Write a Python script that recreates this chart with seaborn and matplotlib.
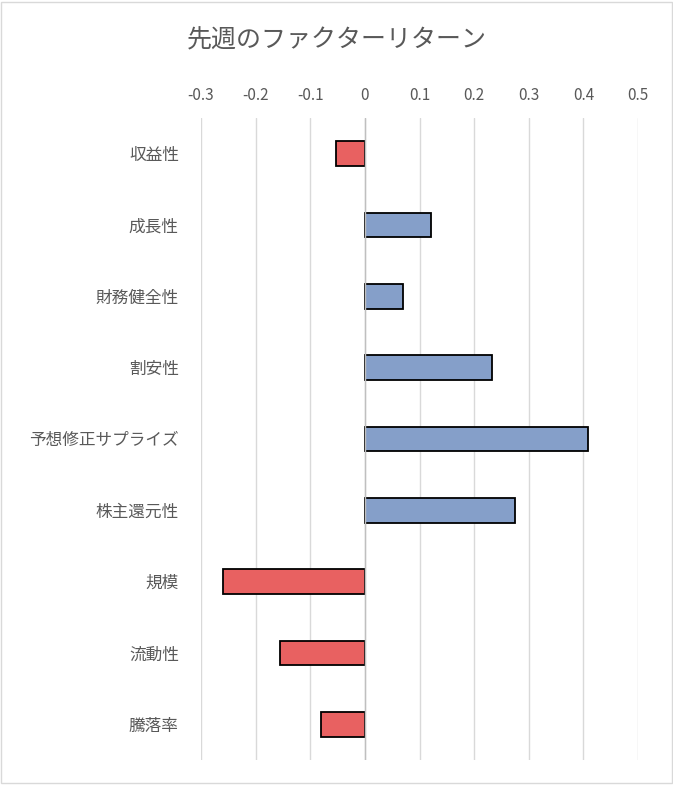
import matplotlib
matplotlib.use("Agg")
import matplotlib.pyplot as plt
import seaborn as sns
import pandas as pd

factors = ["収益性", "成長性", "財務健全性", "割安性", "予想修正サプライズ",
           "株主還元性", "規模", "流動性", "騰落率"]
returns = [-0.053, 0.121, 0.070, 0.233, 0.409, 0.275, -0.260, -0.156, -0.081]
ticks = [-0.3, -0.2, -0.1, 0, 0.1, 0.2, 0.3, 0.4, 0.5]
tick_labels = ["-0.3", "-0.2", "-0.1", "0", "0.1", "0.2", "0.3", "0.4", "0.5"]

sns.set_style("white")
plt.rcParams['font.family'] = ['Noto Sans CJK JP', 'DejaVu Sans']

df = pd.DataFrame({"factor": factors, "ret": returns})
colors = ["#FF4A4A" if v < 0 else "#7A9CD4" for v in returns]

fig = plt.figure(figsize=(6.73, 7.85), dpi=100)
ax = fig.add_axes([201 / 673, 25 / 785, 437 / 673, 642 / 785])
sns.barplot(data=df, x="ret", y="factor", hue="factor", palette=colors, legend=False,
            width=0.35, edgecolor="black", linewidth=1.3, ax=ax, zorder=3)

ax.set_xlim(-0.3, 0.5)
ax.set_xticks(ticks)
ax.set_xticklabels(tick_labels)
ax.xaxis.tick_top()
ax.tick_params(axis="x", length=0, labelsize=11, labelcolor="#595959", pad=10)
ax.tick_params(axis="y", length=0, labelsize=12, labelcolor="#595959", pad=16)
ax.grid(axis="x", color="#D9D9D9", linewidth=1, zorder=0)
ax.axvline(0, color="#BFBFBF", linewidth=1, zorder=4)
for s in ax.spines.values():
    s.set_visible(False)
ax.set_xlabel("")
ax.set_ylabel("")

fig.text(0.5, 1 - 40 / 785, "先週のファクターリターン", ha="center", va="center",
         fontsize=18, color="#595959")
fig.patches.append(plt.Rectangle((0.002, 0.002), 0.996, 0.996, transform=fig.transFigure,
                                 fill=False, edgecolor="#D9D9D9", linewidth=1))
fig.savefig("out.png", dpi=100)
